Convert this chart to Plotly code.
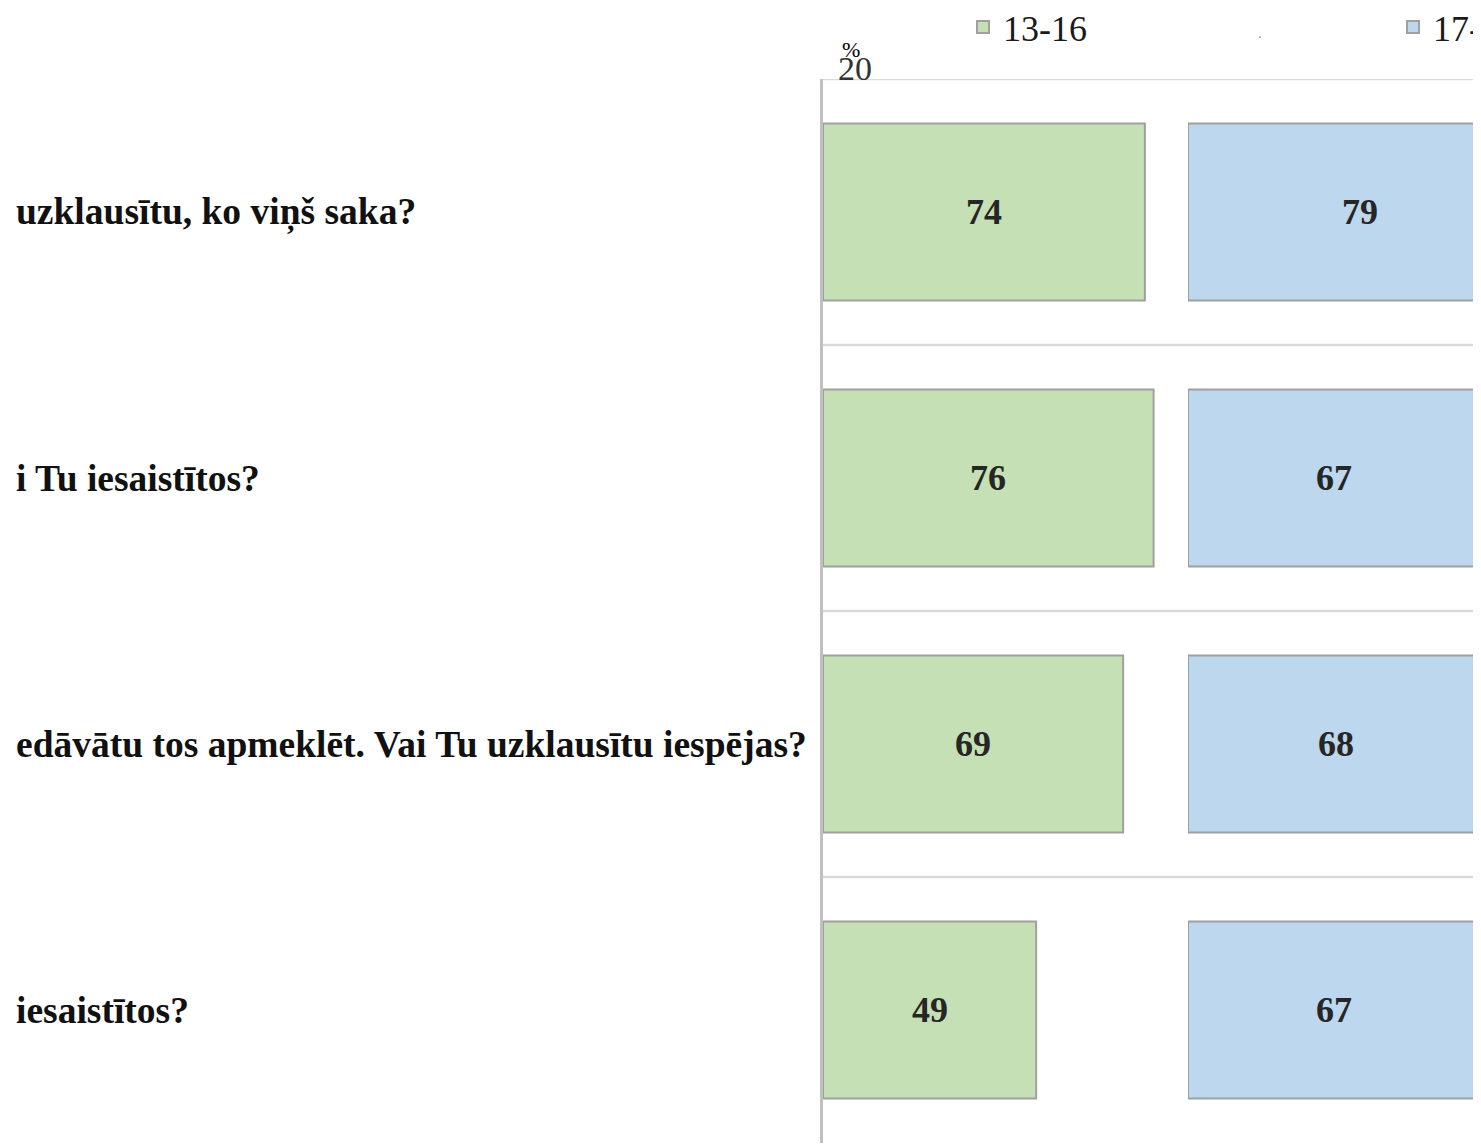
import plotly.graph_objects as go

categories = [
    "uzklausītu, ko viņš saka?",
    "i Tu iesaistītos?",
    "edāvātu tos apmeklēt. Vai Tu uzklausītu iespējas?",
    "iesaistītos?",
]
series_names = ["13-16", "17-"]
values_1316 = [74, 76, 69, 49]
values_17 = [79, 67, 68, 67]

W, H = 1481, 1144
OFF = 8  # page body margin offset
px_per_unit = 4.35
x0_px, x1_px = 823 - OFF, 1180 - OFF
x2_0_px, x2_1_px = 1188 - OFF, W
top_px, bot_px = 79 - OFF, 1143 - OFF


def px(x):
    return x / W


def py(y):
    return 1 - y / H


green = "#c5e0b4"
blue = "#bdd7ee"
outline = "#a0a0a0"
serif = "Liberation Serif"

fig = go.Figure()
fig.add_trace(go.Bar(
    y=categories, x=values_1316, orientation="h", name=series_names[0],
    marker=dict(color=green, line=dict(color=outline, width=2)),
    width=0.665, xaxis="x", yaxis="y", legend="legend",
))
fig.add_trace(go.Bar(
    y=categories, x=values_17, orientation="h", name=series_names[1],
    marker=dict(color=blue, line=dict(color=outline, width=2)),
    width=0.665, xaxis="x2", yaxis="y", legend="legend2",
))

annotations = []
for c, v in zip(categories, values_1316):
    annotations.append(dict(x=v / 2, y=c, xref="x", yref="y", text=str(v), showarrow=False,
                            font=dict(family=serif, size=36, color="#262626", weight="bold")))
for c, v in zip(categories, values_17):
    annotations.append(dict(x=v / 2, y=c, xref="x2", yref="y", text=str(v), showarrow=False,
                            font=dict(family=serif, size=36, color="#262626", weight="bold")))
for c in categories:
    annotations.append(dict(x=px(14 - OFF), y=c, xref="paper", yref="y", text=c, showarrow=False,
                            xanchor="left", yanchor="middle",
                            font=dict(family=serif, size=37.5, color="#111111", weight="bold")))
annotations.append(dict(x=px(836 - OFF), y=py(68 - OFF), xref="paper", yref="paper", text="20",
                        showarrow=False, xanchor="left", yanchor="middle",
                        font=dict(family=serif, size=34, color="#333333")))
annotations.append(dict(x=px(840 - OFF), y=py(50 - OFF), xref="paper", yref="paper", text="%",
                        showarrow=False, xanchor="left", yanchor="middle",
                        font=dict(family=serif, size=22, color="#000000")))
annotations.append(dict(x=px(1260 - OFF), y=py(33 - OFF), xref="paper", yref="paper", text=".",
                        showarrow=False, xanchor="center", yanchor="middle",
                        font=dict(family=serif, size=14, color="#888888")))

shapes = []
for b in [-0.5, 0.5, 1.5, 2.5]:
    shapes.append(dict(type="line", xref="paper", yref="y", x0=px(x0_px), x1=1, y0=b, y1=b,
                       line=dict(color="#d9d9d9", width=2.5), layer="below"))

legend_common = dict(orientation="h", yanchor="middle", xanchor="left",
                     font=dict(family=serif, size=36, color="#1a1a1a"),
                     bgcolor="rgba(0,0,0,0)", itemwidth=30)

fig.update_layout(
    width=W, height=H,
    margin=dict(l=0, r=0, t=0, b=0, autoexpand=False),
    paper_bgcolor="white", plot_bgcolor="white",
    showlegend=True,
    legend=dict(x=px(963 - OFF), y=py(27 - OFF), **legend_common),
    legend2=dict(x=px(1393 - OFF), y=py(27 - OFF), **legend_common),
    xaxis=dict(domain=[px(x0_px), px(x1_px)], range=[0, (x1_px - x0_px) / px_per_unit],
               showgrid=False, zeroline=False, showticklabels=False, showline=False),
    xaxis2=dict(domain=[px(x2_0_px), px(x2_1_px)], range=[0, (x2_1_px - x2_0_px) / px_per_unit],
                showgrid=False, zeroline=False, showticklabels=False, showline=False,
                anchor="y"),
    yaxis=dict(domain=[py(bot_px), py(top_px)], type="category",
               categoryorder="array", categoryarray=categories,
               range=[3.5, -0.5], showgrid=False, zeroline=False, showticklabels=False,
               showline=True, linecolor="#c0c0c0", linewidth=3, anchor="x"),
    annotations=annotations,
    shapes=shapes,
)

fig.write_html("out.html")
